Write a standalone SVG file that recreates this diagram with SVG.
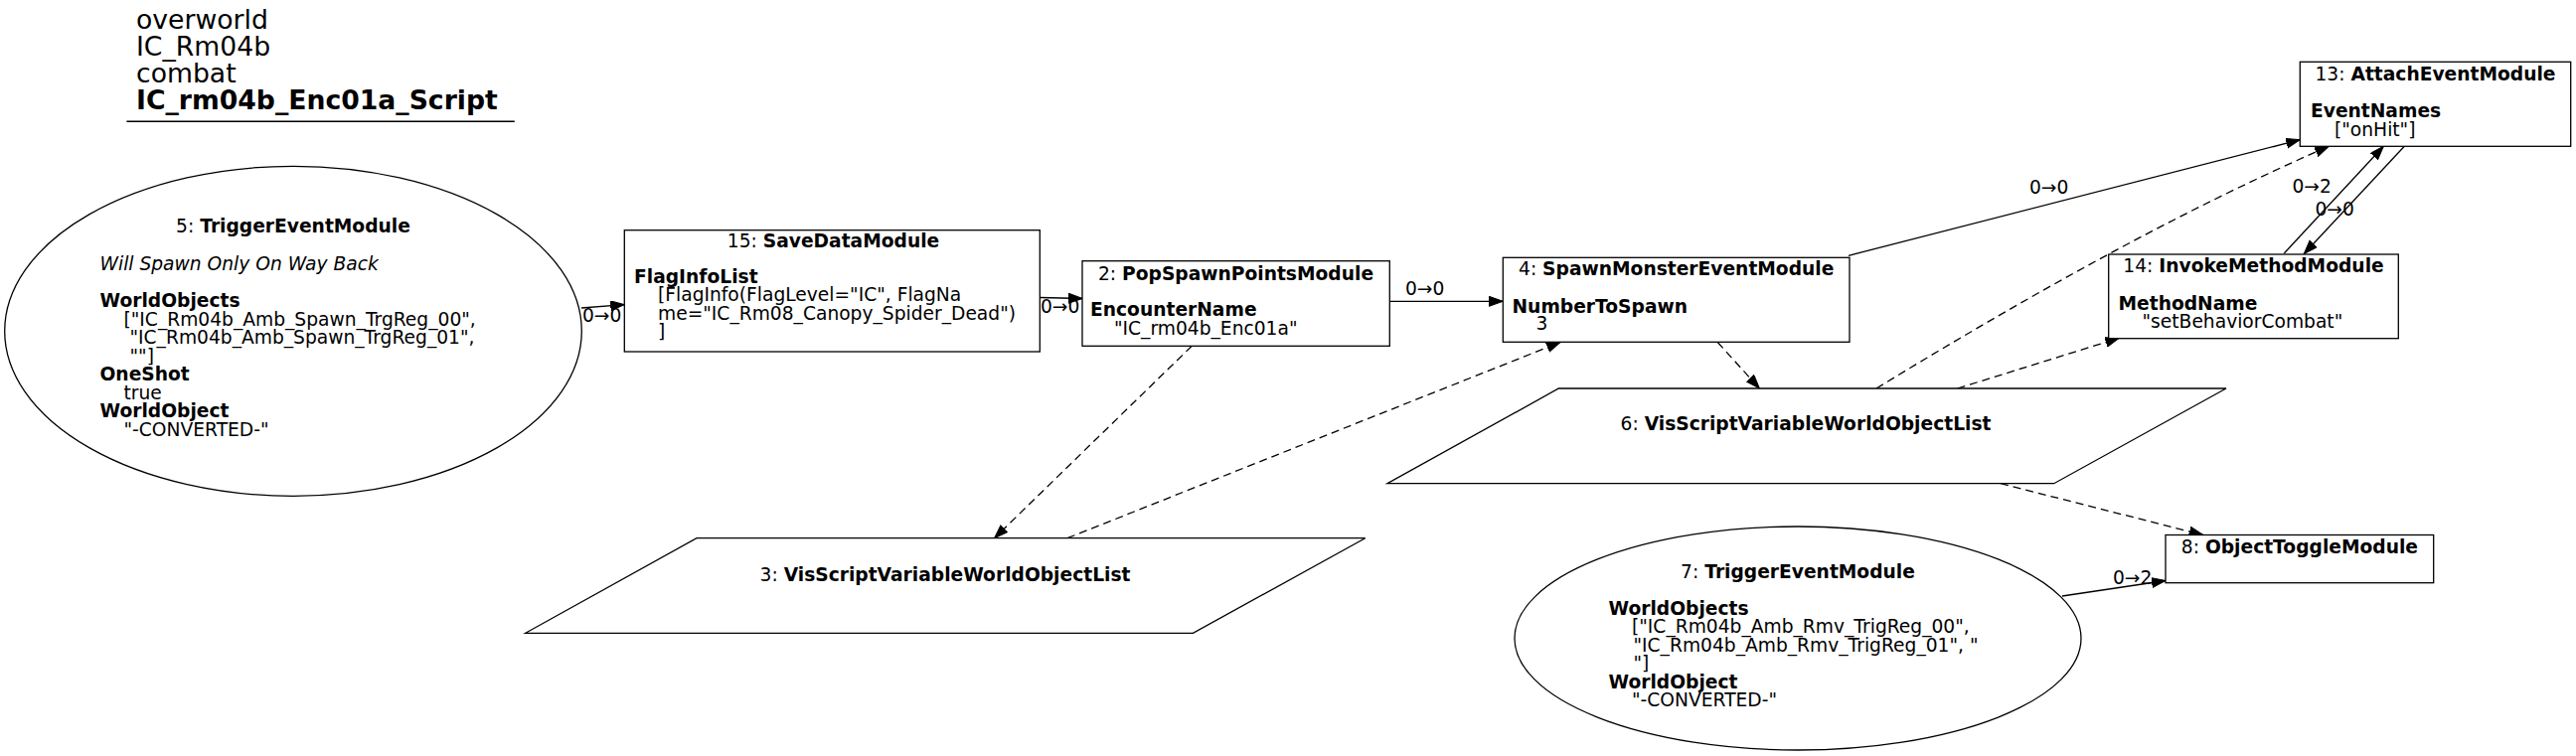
<svg xmlns="http://www.w3.org/2000/svg" width="2592" height="761" viewBox="0 0 2592 761">
<style>
text{font-family:"DejaVu Sans","Liberation Sans",sans-serif;font-size:18.67px;fill:#000}
.t{font-size:26.67px}
.b{font-weight:bold}
.i{font-style:italic}
.m{text-anchor:middle}
.n{fill:#fff;stroke:#000;stroke-width:1.3}
.e{fill:none;stroke:#000;stroke-width:1.3}
.d{stroke-dasharray:8,5}
</style>
<defs>
<marker id="ah" markerUnits="userSpaceOnUse" markerWidth="15" markerHeight="11" refX="14" refY="5" orient="auto">
<path d="M0,0 L14,5 L0,10 z" fill="#000" stroke="#000" stroke-width="1"/>
</marker>
</defs>
<rect width="2592" height="761" fill="#fff"/>
<g id="title">
<text class="t" x="137" y="29">overworld</text>
<text class="t" x="137" y="56">IC_Rm04b</text>
<text class="t" x="137" y="83">combat</text>
<text class="t b" x="137" y="110">IC_rm04b_Enc01a_Script</text>
<line x1="127.4" y1="122.3" x2="517.8" y2="122.3" stroke="#000" stroke-width="1.5"/>
</g>
<g id="connectors">
<line class="e" x1="585" y1="310" x2="628.3" y2="306.7" marker-end="url(#ah)"/>
<text x="586" y="324">0→0</text>
<line class="e" x1="1046.3" y1="299.5" x2="1089" y2="300.5" marker-end="url(#ah)"/>
<text x="1047" y="315">0→0</text>
<line class="e" x1="1398.3" y1="303.3" x2="1512.3" y2="303.3" marker-end="url(#ah)"/>
<text x="1414" y="297.3">0→0</text>
<line class="e" x1="1860" y1="257.3" x2="2314.3" y2="140.7" marker-end="url(#ah)"/>
<text x="2042" y="195">0→0</text>
<line class="e" x1="2298.3" y1="255" x2="2398.3" y2="147.3" marker-end="url(#ah)"/>
<text x="2306.5" y="194.3">0→2</text>
<line class="e" x1="2419.3" y1="147.3" x2="2318.3" y2="255.5" marker-end="url(#ah)"/>
<text x="2329.5" y="216.7">0→0</text>
<line class="e" x1="2075" y1="600" x2="2179" y2="584.5" marker-end="url(#ah)"/>
<text x="2126" y="587.7">0→2</text>
<line class="e d" x1="1199.2" y1="348.3" x2="1000.6" y2="541.7" marker-end="url(#ah)"/>
<line class="e d" x1="1074" y1="541.7" x2="1570" y2="344.5" marker-end="url(#ah)"/>
<line class="e d" x1="1728.3" y1="344.5" x2="1770.4" y2="391" marker-end="url(#ah)"/>
<path class="e d" d="M1888,391 C2038,299.4 2193,212.4 2343.3,147.3" marker-end="url(#ah)"/>
<line class="e d" x1="1969.6" y1="391" x2="2132.3" y2="340.3" marker-end="url(#ah)"/>
<line class="e d" x1="2013" y1="486.7" x2="2216.7" y2="538.5" marker-end="url(#ah)"/>
</g>
<g id="node5">
<ellipse class="n" cx="295" cy="333.3" rx="290.3" ry="166"/>
<text class="m" x="295" y="234">5: <tspan class="b">TriggerEventModule</tspan></text>
<text class="i" x="100.5" y="271.5">Will Spawn Only On Way Back</text>
<text class="b" x="100.5" y="309">WorldObjects</text>
<text x="124.5" y="327.5">["IC_Rm04b_Amb_Spawn_TrgReg_00",</text>
<text x="130.5" y="346">"IC_Rm04b_Amb_Spawn_TrgReg_01",</text>
<text x="130.5" y="364.5">""]</text>
<text class="b" x="100.5" y="383">OneShot</text>
<text x="124.5" y="401.5">true</text>
<text class="b" x="100.5" y="420">WorldObject</text>
<text x="124.5" y="438.5">"-CONVERTED-"</text>
</g>
<g id="node15">
<rect class="n" x="628.3" y="231.7" width="418" height="122.3"/>
<text class="m" x="838.5" y="249.3">15: <tspan class="b">SaveDataModule</tspan></text>
<text class="b" x="638" y="285">FlagInfoList</text>
<text x="662" y="303.3">[FlagInfo(FlagLevel="IC", FlagNa</text>
<text x="662" y="321.7">me="IC_Rm08_Canopy_Spider_Dead")</text>
<text x="662" y="340">]</text>
</g>
<g id="node2">
<rect class="n" x="1089" y="262.7" width="309.3" height="85.6"/>
<text class="m" x="1243.5" y="281.7">2: <tspan class="b">PopSpawnPointsModule</tspan></text>
<text class="b" x="1097" y="318.3">EncounterName</text>
<text x="1121" y="336.7">"IC_rm04b_Enc01a"</text>
</g>
<g id="node3">
<polygon class="n" points="701,541.7 1373.7,541.7 1200.4,637.3 528.7,637.3"/>
<text class="m" x="951" y="585">3: <tspan class="b">VisScriptVariableWorldObjectList</tspan></text>
</g>
<g id="node4">
<rect class="n" x="1512.3" y="259.3" width="348.7" height="85"/>
<text class="m" x="1686.7" y="276.7">4: <tspan class="b">SpawnMonsterEventModule</tspan></text>
<text class="b" x="1521.5" y="315">NumberToSpawn</text>
<text x="1545.5" y="331.7">3</text>
</g>
<g id="node6">
<polygon class="n" points="1568.4,391 2240,391 2066.7,486.7 1396,486.7"/>
<text class="m" x="1817" y="433.3">6: <tspan class="b">VisScriptVariableWorldObjectList</tspan></text>
</g>
<g id="node13">
<rect class="n" x="2314.3" y="62.3" width="272.4" height="85"/>
<text class="m" x="2450.5" y="80.7">13: <tspan class="b">AttachEventModule</tspan></text>
<text class="b" x="2325" y="117.7">EventNames</text>
<text x="2349" y="136.7">["onHit"]</text>
</g>
<g id="node14">
<rect class="n" x="2121.7" y="256" width="291.6" height="84.7"/>
<text class="m" x="2267.5" y="274.3">14: <tspan class="b">InvokeMethodModule</tspan></text>
<text class="b" x="2131.5" y="311.7">MethodName</text>
<text x="2155.5" y="330">"setBehaviorCombat"</text>
</g>
<g id="node7">
<ellipse class="n" cx="1809" cy="642.5" rx="285" ry="112.5"/>
<text class="m" x="1809" y="581.5">7: <tspan class="b">TriggerEventModule</tspan></text>
<text class="b" x="1618.5" y="618.5">WorldObjects</text>
<text x="1642" y="637">["IC_Rm04b_Amb_Rmv_TrigReg_00",</text>
<text x="1643.5" y="655.5">"IC_Rm04b_Amb_Rmv_TrigReg_01", "</text>
<text x="1643.5" y="674">"]</text>
<text class="b" x="1618.5" y="692.5">WorldObject</text>
<text x="1642" y="711">"-CONVERTED-"</text>
</g>
<g id="node8">
<rect class="n" x="2179" y="538.5" width="269.7" height="48.2"/>
<text class="m" x="2313.9" y="557.3">8: <tspan class="b">ObjectToggleModule</tspan></text>
</g>
</svg>
